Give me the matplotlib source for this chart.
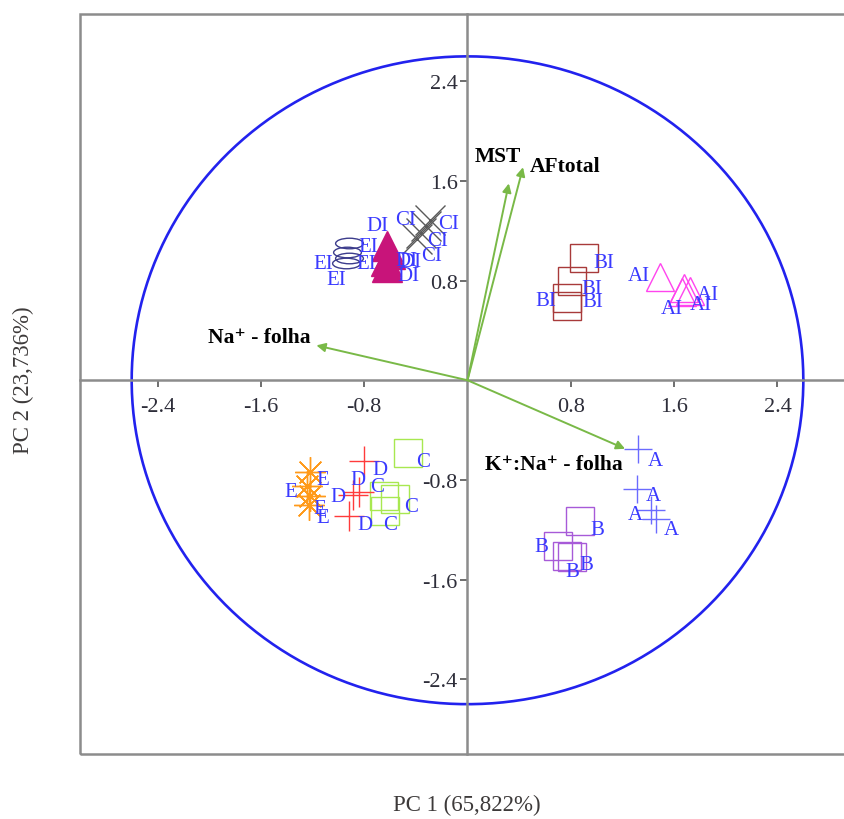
import numpy as np
import matplotlib
matplotlib.use('Agg')
import matplotlib.pyplot as plt
from matplotlib.patches import Rectangle
from matplotlib.path import Path
from matplotlib.transforms import Affine2D

# PCA scores per treatment (PC1, PC2)
a_x = [1.32, 1.31, 1.42, 1.46]
a_y = [-0.55, -0.87, -1.04, -1.11]
b_x = [0.87, 0.70, 0.77, 0.81]
b_y = [-1.13, -1.33, -1.41, -1.42]
c_x = [-0.46, -0.65, -0.56, -0.64]
c_y = [-0.58, -0.93, -0.95, -1.05]
d_x = [-0.80, -0.84, -0.89, -0.92]
d_y = [-0.65, -0.90, -0.92, -1.09]
e_x = [-1.22, -1.24, -1.22, -1.23]
e_y = [-0.74, -0.85, -0.93, -1.00]
ai_x = [1.49, 1.68, 1.66, 1.72]
ai_y = [0.83, 0.74, 0.71, 0.72]
bi_x = [0.90, 0.81, 0.77, 0.77]
bi_y = [0.98, 0.80, 0.66, 0.60]
ci_x = [-0.29, -0.32, -0.36, -0.39]
ci_y = [1.29, 1.24, 1.18, 1.13]
di_x = [-0.62, -0.60, -0.63, -0.62]
di_y = [1.08, 1.01, 0.96, 0.91]
ei_x = [-0.92, -0.93, -0.92, -0.94]
ei_y = [1.10, 1.03, 0.98, 0.94]

# loadings (arrow tips)
var_names = ['MST', 'AFtotal', 'Na\u207a - folha', 'K\u207a:Na\u207a - folha']
load_x = [0.32, 0.43, -1.17, 1.22]
load_y = [1.58, 1.71, 0.28, -0.55]

ticks = [-2.4, -1.6, -0.8, 0.8, 1.6, 2.4]
tick_labels = ['-2.4', '-1.6', '-0.8', '0.8', '1.6', '2.4']
circle_r = 2.6

plt.rcParams['font.family'] = ['Liberation Serif', 'DejaVu Serif']

fig = plt.figure(figsize=(8.45, 8.2), dpi=100)
ax = fig.add_axes([80/845, 65/820, 775/845, 740/820])
ax.set_xlim(-3.0, 3.0)
ax.set_ylim(-3.0, 2.94)

axcol = '#8c8c8c'
ax.spines['left'].set_position(('data', 0))
ax.spines['bottom'].set_position(('data', 0))
ax.spines['top'].set_visible(False)
ax.spines['right'].set_visible(False)
for s in ['left', 'bottom']:
    ax.spines[s].set_color(axcol)
    ax.spines[s].set_linewidth(1.8)
ax.add_patch(Rectangle((0, 0), 1, 1, transform=ax.transAxes, fill=False,
                       ec=axcol, lw=1.8, clip_on=False))

ax.set_xticks(ticks)
ax.set_xticklabels(tick_labels)
ax.set_yticks(ticks)
ax.set_yticklabels(tick_labels)
ax.tick_params(axis='both', direction='out', length=5, width=1.2, color='#555555',
               labelsize=16, labelcolor='#2e2e3a')
ax.tick_params(axis='x', pad=7)
ax.tick_params(axis='y', pad=2)

# circle
t = np.linspace(0, 2*np.pi, 400)
ax.plot(circle_r*np.cos(t), circle_r*np.sin(t), color='#2222ee', lw=1.9, zorder=2)

# loading vectors
for name, lx, ly in zip(var_names, load_x, load_y):
    ax.annotate('', xy=(lx, ly), xytext=(0, 0),
                arrowprops=dict(arrowstyle='-|>', color='#79b947', lw=1.4,
                                mutation_scale=13, shrinkA=0, shrinkB=0), zorder=3)

txt = dict(fontsize=15.5, fontweight='bold', color='black', zorder=6)
ax.annotate(var_names[0], (load_x[0], load_y[0]), xytext=(-8, 20),
            textcoords='offset points', ha='center', va='center', **txt)
ax.annotate(var_names[1], (load_x[1], load_y[1]), xytext=(5, 1),
            textcoords='offset points', ha='left', va='center', **txt)
ax.annotate(var_names[2], (load_x[2], load_y[2]), xytext=(-4, 6),
            textcoords='offset points', ha='right', va='center', **txt)
ax.annotate(var_names[3], (load_x[3], load_y[3]), xytext=(-2, -11),
            textcoords='offset points', ha='right', va='center', **txt)

ellipse = Path.unit_circle().transformed(Affine2D().scale(1, 0.38))

groups = [
    ('A', a_x, a_y, '+', '#6b6bff', False, 20,
     [(17, 12), (17, 7), (-16, 5), (15, 11)]),
    ('B', b_x, b_y, 's', '#a75ad8', False, 20,
     [(17, 8), (-17, 1), (5, 16), (14, 7)]),
    ('C', c_x, c_y, 's', '#a8e850', False, 20,
     [(15, 9), (-6, -10), (16, 8), (5, 13)]),
    ('D', d_x, d_y, '+', '#ff3b3b', False, 22,
     [(16, 8), (-1, -13), (-15, 2), (16, 8)]),
    ('E', e_x, e_y, (8, 2, 0), '#ff9a1a', False, 22,
     [(13, 7), (-17, 5), (10, 12), (14, 13)]),
    ('AI', ai_x, ai_y, '^', '#ff44ee', False, 20,
     [(-21, -1), (-13, 20), (26, 3), (11, 14)]),
    ('BI', bi_x, bi_y, 's', '#a83a3a', False, 20,
     [(20, 4), (20, 8), (-21, 2), (26, -4)]),
    ('CI', ci_x, ci_y, 'x', '#5a5a5a', False, 21,
     [(-24, 0), (22, -2), (17, 7), (14, 16)]),
    ('DI', di_x, di_y, '^', '#c8147a', True, 21,
     [(-10, -20), (16, 6), (24, 1), (21, 9)]),
    ('EI', ei_x, ei_y, ellipse, '#3c3c8c', False, 20,
     [(20, 3), (-24, 12), (18, 5), (-10, 16)]),
]

for lab, xs, ys, mk, col, filled, ms, offs in groups:
    ax.plot(xs, ys, linestyle='none', marker=mk, markersize=ms,
            markerfacecolor=col if filled else 'none', markeredgecolor=col,
            markeredgewidth=1.0, zorder=4)
    for x, y, (dx, dy) in zip(xs, ys, offs):
        ax.annotate(lab, (x, y), xytext=(dx*0.72, -dy*0.72), textcoords='offset points',
                    ha='center', va='center', fontsize=15, color='#3a3aff', zorder=5)

fig.text(467/845, 1 - 805/820, 'PC 1 (65,822%)', ha='center', va='center',
         fontsize=16.5, color='#3d3a3a')
fig.text(23/845, 1 - 380/820, 'PC 2 (23,736%)', ha='center', va='center',
         rotation=90, fontsize=16.5, color='#3d3a3a')

fig.savefig('out.png', dpi=100)
